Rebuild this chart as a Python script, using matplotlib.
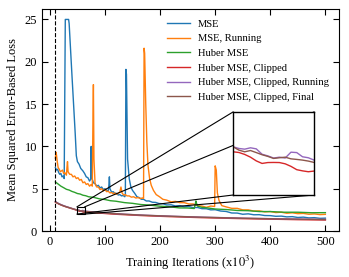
import matplotlib
matplotlib.use("Agg")
import matplotlib.pyplot as plt
from matplotlib.patches import Rectangle, ConnectionPatch

plt.rcParams['font.family'] = ['Liberation Serif', 'DejaVu Serif']
plt.rcParams['mathtext.fontset'] = 'stix'
plt.rcParams['font.size'] = 9

# training iterations (x10^3) and losses
mse_x = [10, 12, 14, 16, 18, 20, 22, 24, 26, 28, 34, 35, 40, 46, 48, 50, 53, 56, 60, 63,
         66, 69, 72, 74, 75, 76, 79, 82, 85, 88, 91, 94, 97, 100, 103, 106, 107, 108, 109,
         112, 115, 118, 121, 124, 127, 130, 133, 136, 137, 138, 139, 141, 144, 147, 150,
         154, 158, 162, 166, 170, 175, 180, 186, 192, 198, 205, 212, 220, 228, 236, 244,
         252, 260, 268, 276, 284, 292, 300, 310, 320, 330, 340, 350, 360, 370, 380, 390,
         400, 410, 420, 430, 440, 450, 460, 470, 480, 490, 500]
mse_y = [7.5, 7.2, 7.3, 6.9, 6.7, 6.8, 6.4, 6.5, 6.2, 25, 25, 24.5, 18.5, 11.5, 8.9, 8.2,
         7.9, 7.4, 7.1, 6.8, 6.4, 6.3, 5.9, 6.1, 10.0, 6.3, 5.7, 5.6, 5.3, 5.4, 5.1, 5.2,
         4.9, 5.0, 4.8, 4.75, 5.3, 6.4, 5.0, 4.6, 4.65, 4.45, 4.45, 4.25, 4.3, 4.15, 4.2, 4.05,
         4.3, 19.1, 18.5, 8.5, 6.2, 5.2, 4.8, 4.45, 4.05, 3.95, 3.75, 3.75, 3.55, 3.55, 3.4,
         3.38, 3.25, 3.22, 3.08, 3.1, 2.96, 3.0, 2.86, 2.9, 2.76, 2.78, 2.64, 2.63, 2.5,
         2.52, 2.36, 2.31, 2.13, 2.12, 1.98, 2.03, 1.92, 1.93, 1.83, 1.82, 1.74, 1.76, 1.67,
         1.7, 1.6, 1.64, 1.55, 1.58, 1.5, 1.52]

run_x = [10, 11, 12, 13, 15, 17, 19, 21, 23, 25, 27, 30, 31, 32, 33, 36, 39, 42, 45, 48,
         51, 54, 57, 60, 63, 66, 69, 72, 75, 77, 78, 79, 80, 82, 85, 88, 91, 94, 97, 100,
         103, 106, 109, 112, 115, 118, 121, 124, 127, 129, 131, 134, 137, 140, 144, 148,
         152, 156, 160, 164, 168, 170, 171, 172, 174, 176, 178, 181, 184, 188, 193, 199,
         205, 212, 220, 228, 236, 244, 252, 260, 268, 276, 284, 292, 299, 300, 302, 304,
         307, 312, 320, 330, 340, 350, 360, 370, 380, 390, 400, 410, 420, 430, 440, 450,
         460, 470, 480, 490, 500]
run_y = [8.6, 9.3, 9.0, 8.4, 7.5, 7.3, 7.0, 7.1, 7.2, 6.8, 6.9, 6.6, 7.5, 8.2, 7.0, 6.7,
         6.7, 6.4, 6.5, 6.2, 6.3, 6.0, 6.1, 5.7, 5.8, 5.5, 5.6, 5.3, 5.5, 5.3, 12.0, 17.3,
         8.5, 5.6, 5.2, 5.2, 4.9, 5.0, 4.75, 4.9, 4.65, 4.7, 4.5, 4.55, 4.4, 4.5, 4.35, 4.45,
         4.6, 5.2, 4.5, 4.25, 4.3, 4.15, 4.15, 4.0, 4.05, 3.9, 3.95, 3.85, 3.9, 3.85, 21.6,
         21.0, 15.0, 10.5, 7.8, 6.2, 5.4, 4.8, 4.3, 4.05, 3.75, 3.65, 3.45, 3.5, 3.35, 3.35,
         3.2, 3.2, 3.0, 2.95, 2.8, 2.95, 2.9, 7.7, 7.2, 4.5, 3.6, 3.0, 2.85, 2.68, 2.68, 2.5,
         2.5, 2.36, 2.38, 2.26, 2.3, 2.18, 2.22, 2.1, 2.15, 2.05, 2.08, 1.98, 2.02, 1.94, 1.97]

huber_x = [10, 15, 20, 25, 30, 35, 40, 45, 50, 55, 60, 65, 70, 80, 90, 100, 110, 120, 135,
           150, 165, 180, 200, 217, 235, 250, 262, 264, 265, 266, 268, 272, 277, 285, 300,
           320, 340, 360, 380, 400, 425, 450, 475, 500]
huber_y = [5.8, 5.55, 5.3, 5.12, 4.93, 4.84, 4.68, 4.57, 4.43, 4.37, 4.23, 4.17, 4.05, 3.97,
           3.8, 3.72, 3.58, 3.52, 3.36, 3.27, 3.13, 3.07, 2.93, 2.87, 2.73, 2.72, 2.66, 3.2,
           3.55, 3.3, 2.95, 2.87, 2.78, 2.74, 2.6, 2.54, 2.43, 2.4, 2.3, 2.3, 2.22, 2.22,
           2.16, 2.17]

clip_x = [10, 13, 16, 20, 25, 30, 35, 40, 45, 49, 50, 51, 52, 53, 54, 55, 56, 57, 58, 59,
          60, 61, 62, 63, 66, 70, 75, 80, 90, 100, 110, 120, 135, 150, 165, 180, 200, 217,
          235, 250, 275, 300, 325, 350, 375, 400, 425, 450, 475, 500]
clip_y = [3.42, 3.3, 3.2, 3.08, 2.95, 2.84, 2.74, 2.64, 2.54, 2.442, 2.435, 2.415, 2.387,
          2.349, 2.323, 2.332, 2.333, 2.332, 2.319, 2.293, 2.259, 2.247, 2.238, 2.245, 2.24,
          2.22, 2.2, 2.17, 2.12, 2.07, 2.02, 1.98, 1.93, 1.88, 1.83, 1.79, 1.74, 1.7, 1.67,
          1.63, 1.58, 1.54, 1.5, 1.46, 1.43, 1.4, 1.37, 1.34, 1.32, 1.3]
clip_run_y = [3.5, 3.36, 3.25, 3.13, 3.0, 2.88, 2.78, 2.67, 2.57, 2.493, 2.476, 2.469,
              2.483, 2.472, 2.417, 2.4, 2.378, 2.387, 2.378, 2.438, 2.434, 2.391, 2.381,
              2.357, 2.34, 2.31, 2.28, 2.25, 2.2, 2.14, 2.09, 2.05, 1.99, 1.94, 1.89, 1.85,
              1.8, 1.76, 1.72, 1.69, 1.64, 1.6, 1.56, 1.52, 1.49, 1.46, 1.43, 1.41, 1.39, 1.37]
clip_fin_y = [3.45, 3.33, 3.22, 3.1, 2.97, 2.86, 2.76, 2.66, 2.56, 2.493, 2.459, 2.442,
              2.455, 2.434, 2.412, 2.395, 2.374, 2.381, 2.387, 2.37, 2.364, 2.357, 2.347,
              2.333, 2.31, 2.29, 2.26, 2.23, 2.18, 2.13, 2.08, 2.04, 1.98, 1.93, 1.88, 1.84,
              1.79, 1.75, 1.71, 1.68, 1.63, 1.59, 1.55, 1.51, 1.48, 1.45, 1.42, 1.4, 1.38, 1.36]

series = [
    ("MSE", mse_x, mse_y),
    ("MSE, Running", run_x, run_y),
    ("Huber MSE", huber_x, huber_y),
    ("Huber MSE, Clipped", clip_x, clip_y),
    ("Huber MSE, Clipped, Running", clip_x, clip_run_y),
    ("Huber MSE, Clipped, Final", clip_x, clip_fin_y),
]

fig = plt.figure(figsize=(3.49, 2.77), dpi=100)
ax = fig.add_axes([0.120, 0.166, 0.851, 0.802])

for i, (name, xs, ys) in enumerate(series):
    ax.plot(xs, ys, color=f"C{i}", lw=1.0, label=name)

ax.axvline(10, color='k', ls='--', lw=0.8)
ax.set_xlim(-14.5, 524.5)
ax.set_ylim(0, 26.25)
ax.set_xticks([0, 100, 200, 300, 400, 500])
ax.set_yticks([0, 5, 10, 15, 20, 25])
ax.tick_params(direction='in', top=True, right=True, labelsize=9, length=4)
ax.set_xlabel(r'Training Iterations (x$10^3$)', fontsize=9)
ax.set_ylabel('Mean Squared Error-Based Loss', fontsize=9)

ax.legend(loc='upper left', bbox_to_anchor=(0.406, 0.972), frameon=False,
          borderaxespad=0, labelspacing=0.5, handlelength=2.2, handletextpad=0.75,
          fontsize=7.6)

# zoomed inset
x1, x2, y1, y2 = 49, 63, 2.0, 2.85
axins = fig.add_axes([0.668, 0.296, 0.232, 0.300], zorder=5)
for i, (name, xs, ys) in enumerate(series):
    axins.plot(xs, ys, color=f"C{i}", lw=1.0)
axins.set_xlim(x1, x2)
axins.set_ylim(y1, y2)
axins.set_xticks([])
axins.set_yticks([])
for s in axins.spines.values():
    s.set_linewidth(1.0)

ax.add_patch(Rectangle((x1, y1), x2 - x1, y2 - y1, fill=False, ec='k', lw=0.8, zorder=4))
for (xa, ya), (xb, yb) in [((x1, y2), (0, 1)), ((x2, y2), (1, 1)),
                           ((x1, y1), (0, 0)), ((x2, y1), (1, 0))]:
    con = ConnectionPatch(xyA=(xa, ya), coordsA=ax.transData,
                          xyB=(xb, yb), coordsB=axins.transAxes,
                          color='k', lw=0.8, zorder=3)
    fig.add_artist(con)

fig.savefig("out.png", dpi=100)
